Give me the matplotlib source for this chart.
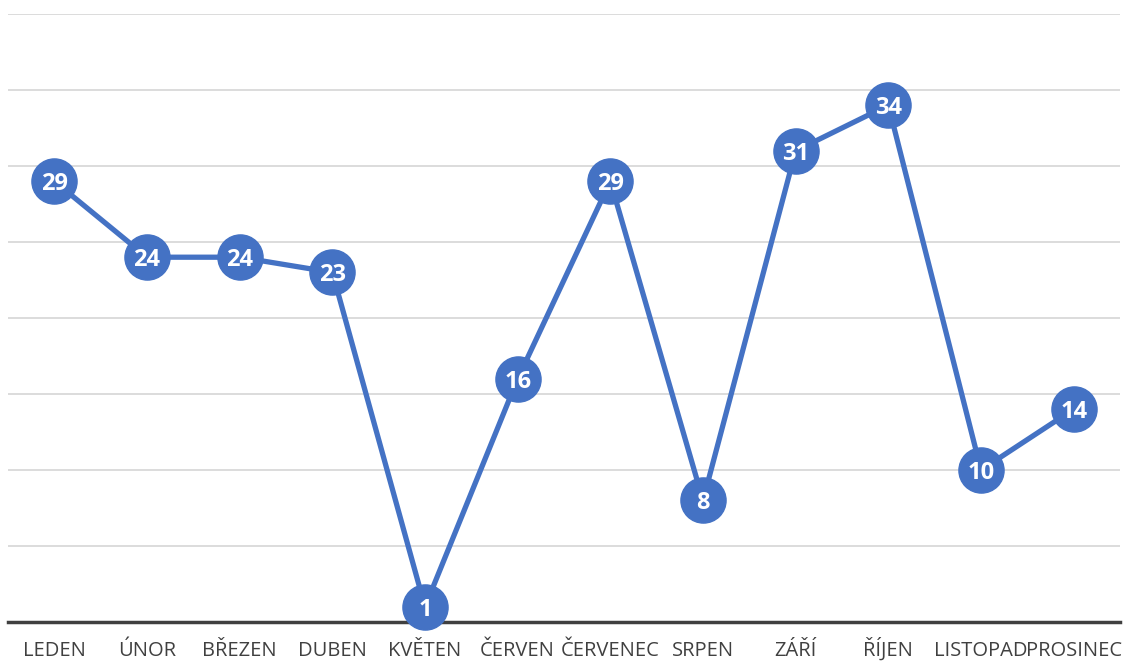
import numpy as np
import matplotlib.pyplot as plt

months = ["LEDEN", "ÚNOR", "BŘEZEN", "DUBEN", "KVĚTEN", "ČERVEN", "ČERVENEC",
          "SRPEN", "ZÁŘÍ", "ŘÍJEN", "LISTOPAD", "PROSINEC"]
values = [29, 24, 24, 23, 1, 16, 29, 8, 31, 34, 10, 14]

blue = "#4472c4"

fig = plt.figure(figsize=(11.26, 6.63), dpi=100)
W, H = 1126, 663
ax = fig.add_axes([8 / W, (H - 622) / H, (1120 - 8) / W, (622 - 14) / H])

x = np.arange(len(months))
ax.set_xlim(-0.5, len(months) - 0.5)
ax.set_ylim(0, 40)

for g in np.arange(5, 41, 5):
    ax.axhline(g, color="#d9d9d9", lw=1.3, zorder=0)

ax.plot(x, values, color=blue, lw=3.8, marker="o", markersize=32.5,
        markerfacecolor=blue, markeredgecolor=blue, zorder=3, clip_on=False)

for xi, v in zip(x, values):
    ax.text(xi, v, str(v), color="white", fontsize=17, fontweight="bold",
            family="Open Sans", ha="center", va="center_baseline", zorder=4)

for s in ["top", "right", "left"]:
    ax.spines[s].set_visible(False)
ax.spines["bottom"].set_color("#404040")
ax.spines["bottom"].set_linewidth(2.5)
ax.spines["bottom"].set_zorder(2)

ax.set_yticks([])
ax.set_xticks(x)
ax.set_xticklabels(months, family="Open Sans", fontsize=14.5, color="#404040",
                   va="baseline")
ax.tick_params(axis="x", length=0, pad=24.5)

fig.savefig("out.png", dpi=100)
